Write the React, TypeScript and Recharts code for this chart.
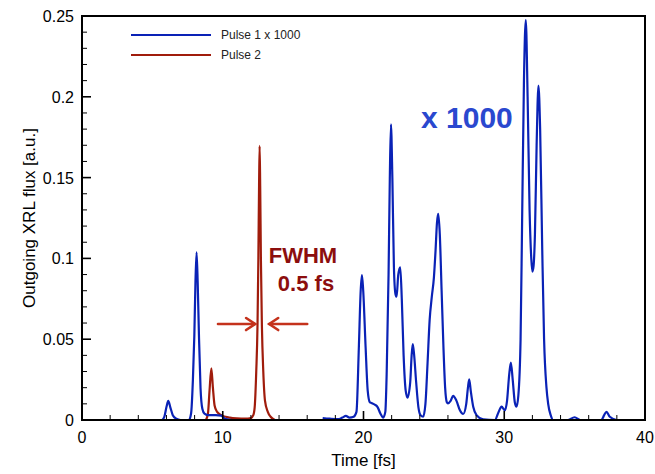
import React from "react";
import {
  Legend,
  Line,
  LineChart,
  ReferenceArea,
  ReferenceLine,
  XAxis,
  YAxis,
} from "recharts";

// [time fs, flux]; null breaks the line
const pulse1: [number, number | null][] = [
  [5.7, 0], [5.85, 0.002], [6.0, 0.008], [6.13, 0.0118], [6.27, 0.008], [6.45, 0.003],
  [6.7, 0.0008], [7.0, 0], [7.6, 0], [7.75, 0.004], [7.88, 0.025], [7.98, 0.052],
  [8.06, 0.085], [8.14, 0.1037], [8.22, 0.085], [8.31, 0.052], [8.42, 0.02], [8.55, 0.007],
  [8.7, 0.004], [9.0, 0.003], [9.5, 0.003], [9.9, 0.0027], [10.1, 0.0012], [10.4, 0.0003],
  [10.7, 0], [14, null], [17.1, 0.0012], [17.6, 0.0008], [18.2, 0.0005], [18.5, 0.0015],
  [18.75, 0.0025], [19.0, 0.0015], [19.3, 0.002], [19.5, 0.005], [19.67, 0.045], [19.8, 0.08],
  [19.89, 0.0897], [19.98, 0.08], [20.15, 0.045], [20.3, 0.018], [20.45, 0.011], [20.57, 0.0105],
  [20.8, 0.0095], [21.0, 0.008], [21.2, 0.004], [21.4, 0.0015], [21.55, 0.005], [21.65, 0.03],
  [21.78, 0.09], [21.87, 0.15], [21.95, 0.183], [22.05, 0.15], [22.16, 0.095], [22.27, 0.078],
  [22.35, 0.0763], [22.47, 0.09], [22.61, 0.0945], [22.72, 0.075], [22.85, 0.04], [23.0, 0.018],
  [23.13, 0.0138], [23.32, 0.0235], [23.42, 0.04], [23.5, 0.047], [23.6, 0.04], [23.74, 0.0235],
  [23.9, 0.008], [24.05, 0.003], [24.24, 0.002], [24.4, 0.01], [24.55, 0.035], [24.7, 0.062],
  [24.85, 0.076], [25.0, 0.088], [25.12, 0.105], [25.22, 0.122], [25.31, 0.1275], [25.42, 0.115],
  [25.55, 0.08], [25.68, 0.045], [25.8, 0.02], [25.92, 0.011], [26.0, 0.0103], [26.2, 0.012],
  [26.37, 0.0149], [26.6, 0.012], [26.85, 0.006], [27.08, 0.0037], [27.3, 0.01], [27.42, 0.02],
  [27.51, 0.0252], [27.62, 0.018], [27.8, 0.008], [28.03, 0.003], [28.5, 0.0004], [29.33, 0],
  [29.6, 0.005], [29.81, 0.0083], [30.04, 0.006], [30.2, 0.012], [30.35, 0.028], [30.47, 0.0355],
  [30.6, 0.025], [30.75, 0.011], [30.87, 0.0082], [31.0, 0.015], [31.16, 0.05], [31.27, 0.124],
  [31.4, 0.21], [31.53, 0.2475], [31.66, 0.2], [31.8, 0.13], [31.92, 0.1], [32.0, 0.0918],
  [32.08, 0.095], [32.18, 0.115], [32.3, 0.17], [32.43, 0.2069], [32.55, 0.18], [32.7, 0.105],
  [32.83, 0.05], [33.0, 0.02], [33.12, 0.01], [33.3, 0.003], [33.47, 0], [34.5, 0],
  [35.0, 0.0017], [35.4, 0], [36.9, 0], [37.1, 0.003], [37.26, 0.0051], [37.5, 0.002], [37.97, 0],
];

const pulse2: [number, number][] = [
  [8.8, 0], [8.95, 0.004], [9.06, 0.018], [9.19, 0.032], [9.3, 0.02], [9.42, 0.009],
  [9.6, 0.005], [9.9, 0.003], [10.5, 0.0015], [11.0, 0.001], [11.6, 0.0008], [12.0, 0.0012],
  [12.17, 0.003], [12.27, 0.008], [12.38, 0.03], [12.47, 0.059], [12.53, 0.1], [12.58, 0.145],
  [12.62, 0.1696], [12.66, 0.145], [12.71, 0.1], [12.78, 0.059], [12.88, 0.03], [13.0, 0.012],
  [13.2, 0.005], [13.4, 0.002], [13.7, 0],
];

const xTicks = [0, 2, 4, 6, 8, 10, 12, 14, 16, 18, 20, 22, 24, 26, 28, 30, 32, 34, 36, 38, 40];
const yTicks = [
  0, 0.01, 0.02, 0.03, 0.04, 0.05, 0.06, 0.07, 0.08, 0.09, 0.1, 0.11, 0.12, 0.13,
  0.14, 0.15, 0.16, 0.17, 0.18, 0.19, 0.2, 0.21, 0.22, 0.23, 0.24, 0.25,
];
const seriesNames = ["Pulse 1 x 1000", "Pulse 2"];

const BLUE = "#0a22b6";
const RED = "#a01c0c";
const FONT = '"Liberation Sans", Arial, Helvetica, sans-serif';

const pulse1Data = pulse1.map(([t, flux]) => ({ t, flux }));
const pulse2Data = pulse2.map(([t, flux]) => ({ t, flux }));

const XTick = ({ x, y, payload }: any) => {
  const major = payload.value % 10 === 0;
  return (
    <g>
      <line x1={x} x2={x} y1={y} y2={y - (major ? 9 : 5)} stroke="#000" strokeWidth={major ? 1.6 : 1} />
      {major && (
        <text x={x} y={y + 23} textAnchor="middle" fontSize={16} fill="#000" fontFamily={FONT}>
          {payload.value}
        </text>
      )}
    </g>
  );
};

const YTick = ({ x, y, payload }: any) => {
  const major = Math.round(payload.value * 100) % 5 === 0;
  return (
    <g>
      <line x1={x} x2={x + (major ? 9 : 5)} y1={y} y2={y} stroke="#000" strokeWidth={major ? 1.6 : 1} />
      {major && (
        <text x={x - 8} y={y + 6} textAnchor="end" fontSize={16} fill="#000" fontFamily={FONT}>
          {String(payload.value)}
        </text>
      )}
    </g>
  );
};

const YLabel = ({ viewBox }: any) => {
  const cx = 29;
  const cy = viewBox.y + viewBox.height / 2;
  return (
    <text
      x={cx}
      y={cy}
      transform={`rotate(-90, ${cx}, ${cy})`}
      textAnchor="middle"
      dominantBaseline="central"
      fontSize={17}
      fontFamily={FONT}
      fill="#000"
    >
      Outgoing XRL flux [a.u.]
    </text>
  );
};

const LegendBox = () => (
  <svg width={220} height={40} style={{ display: "block" }}>
    {seriesNames.map((name, i) => (
      <g key={name}>
        <line x1={6} x2={86} y1={10 + i * 20} y2={10 + i * 20} stroke={i === 0 ? BLUE : RED} strokeWidth={2.2} />
        <text x={96} y={14 + i * 20} fontSize={12} fontFamily={FONT} fill="#222">
          {name}
        </text>
      </g>
    ))}
  </svg>
);

const Arrow = ({ x1, y1, x2, y2 }: any) => {
  const dir = x2 > x1 ? 1 : -1;
  return (
    <g stroke="#c4321c" strokeWidth={2.6} fill="none" strokeLinecap="round">
      <line x1={x1} y1={y1} x2={x2} y2={y2} />
      <polyline points={`${x2 - dir * 9},${y2 - 6} ${x2},${y2} ${x2 - dir * 9},${y2 + 6}`} />
    </g>
  );
};

export default function App() {
  return (
    <div style={{ position: "absolute", left: 0, top: 0, background: "#fff", fontFamily: FONT }}>
      <LineChart width={655} height={474} margin={{ top: 16, right: 10, left: 0, bottom: 0 }}>
        <XAxis
          dataKey="t"
          type="number"
          domain={[0, 40]}
          ticks={xTicks}
          interval={0}
          allowDuplicatedCategory={false}
          height={54}
          tickSize={0}
          tickMargin={0}
          tick={<XTick />}
          axisLine={{ stroke: "#000", strokeWidth: 2 }}
          label={{
            value: "Time [fs]",
            position: "insideBottom",
            offset: 8,
            fontSize: 17,
            fill: "#000",
            fontFamily: FONT,
          }}
        />
        <YAxis
          type="number"
          domain={[0, 0.25]}
          ticks={yTicks}
          interval={0}
          width={82}
          tickSize={0}
          tickMargin={0}
          tick={<YTick />}
          axisLine={{ stroke: "#000", strokeWidth: 2 }}
          label={<YLabel />}
        />
        <ReferenceArea x1={0} x2={40} y1={0} y2={0.25} fill="none" stroke="#000" strokeWidth={2} />
        <Legend
          layout="horizontal"
          verticalAlign="middle"
          align="center"
          content={<LegendBox />}
          wrapperStyle={{ position: "absolute", left: 125, top: 25, width: 220 }}
        />
        <Line
          data={pulse2Data}
          dataKey="flux"
          type="monotone"
          stroke={RED}
          strokeWidth={2.2}
          dot={false}
          activeDot={false}
          isAnimationActive={false}
          name={seriesNames[1]}
        />
        <Line
          data={pulse1Data}
          dataKey="flux"
          type="monotone"
          stroke={BLUE}
          strokeWidth={2.2}
          dot={false}
          activeDot={false}
          isAnimationActive={false}
          name={seriesNames[0]}
        />
        <ReferenceLine segment={[{ x: 9.66, y: 0.0594 }, { x: 12.3, y: 0.0594 }]} stroke="none" shape={<Arrow />} />
        <ReferenceLine segment={[{ x: 16.0, y: 0.0594 }, { x: 13.3, y: 0.0594 }]} stroke="none" shape={<Arrow />} />
        <text x={303} y={263} textAnchor="middle" fontSize={22} fontWeight="bold" fill="#8c0e0e" fontFamily={FONT}>
          FWHM
        </text>
        <text x={306} y={291} textAnchor="middle" fontSize={22} fontWeight="bold" fill="#8c0e0e" fontFamily={FONT}>
          0.5 fs
        </text>
        <text x={421} y={128} fontSize={30} fontWeight="bold" fill="#2a48cf" fontFamily={FONT}>
          x 1000
        </text>
      </LineChart>
    </div>
  );
}
